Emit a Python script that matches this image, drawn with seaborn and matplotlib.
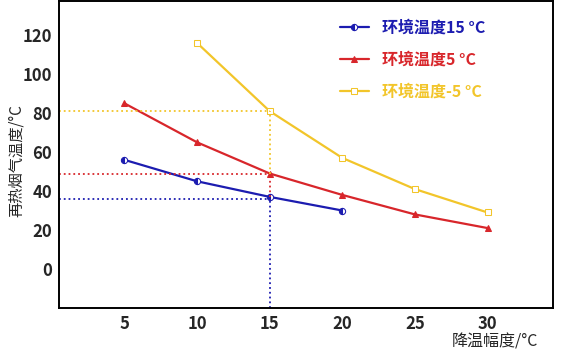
import numpy as np
import pandas as pd
import matplotlib
matplotlib.use("Agg")
import matplotlib.pyplot as plt
import seaborn as sns

# =========================================
# Data
# =========================================

x_blue = [5, 10, 15, 20]
y_blue = [56, 45, 37, 30]

x_red = [5, 10, 15, 20, 25, 30]
y_red = [85, 65, 49, 38, 28, 21]

x_yellow = [10, 15, 20, 25, 30]
y_yellow = [116, 81, 57, 41, 29]

labels = ["环境温度15 °C", "环境温度5 °C", "环境温度-5 °C"]

# reading lines at 15 °C drop
ref_x = 15
ref_y = [36, 48.5, 81]          # blue, red, yellow
ref_top = [37, 49, 81]
ref_bottom = [-20, 37, 49]      # where each vertical dotted segment ends

x_ticks = [5, 10, 15, 20, 25, 30]
y_ticks = [0, 20, 40, 60, 80, 100, 120]

# =========================================
# Plot
# =========================================

sns.set_style("white")
plt.rcParams['font.family'] = ['Noto Sans CJK SC', 'DejaVu Sans']

colors = ["#1c1cb0", "#d8262b", "#f2c52a"]

fig = plt.figure(figsize=(5.63, 3.56), dpi=100)
ax = fig.add_axes([0.105, 0.135, 0.877, 0.862])

series = [(x_blue, y_blue), (x_red, y_red), (x_yellow, y_yellow)]
markers = ["o", "^", "s"]
faces = [None, None, "white"]

for (xs, ys), lab, c, m, fc in zip(series, labels, colors, markers, faces):
    df = pd.DataFrame({"x": xs, "y": ys})
    kw = dict(marker=m, markersize=4.5, markeredgecolor=c, linewidth=1.6)
    if fc:
        kw["markerfacecolor"] = fc
    if m == "o":
        kw["fillstyle"] = "left"
        kw["markerfacecoloralt"] = "white"
    sns.lineplot(data=df, x="x", y="y", color=c, label=lab, ax=ax, **kw)

xmin, xmax = 0.5, 34.5
ymin, ymax = -20, 137.5
for c, ry in zip(colors, ref_y):
    ax.plot([xmin, ref_x], [ry, ry], color=c, linestyle=":", linewidth=1.3)
for c, rt, rb in zip(colors, ref_top, ref_bottom):
    ax.plot([ref_x, ref_x], [rb, rt], color=c, linestyle=":", linewidth=1.3)

ax.set_xlim(xmin, xmax)
ax.set_ylim(ymin, ymax)
ax.set_xticks(x_ticks)
ax.set_yticks(y_ticks)
ax.tick_params(direction="in", length=8, width=1.8, labelsize=12, pad=5)
for t in ax.get_xticklabels() + ax.get_yticklabels():
    t.set_fontweight("bold")

for s in ax.spines.values():
    s.set_color("black")
    s.set_linewidth(1.4)

ax.set_xlabel("")
ax.set_ylabel("再热烟气温度/°C", fontsize=11)
ax.yaxis.set_label_coords(-0.07, 0.48)
fig.text(0.955, 0.04, "降温幅度/°C", fontsize=11.5, ha="right", va="center")

leg = ax.legend(loc="upper left", bbox_to_anchor=(0.54, 0.985), frameon=False,
                handlelength=1.8, labelspacing=1.0, prop={"weight": "bold", "size": 11.5})
for txt, c in zip(leg.get_texts(), colors):
    txt.set_color(c)

fig.savefig("out.png", dpi=100)
